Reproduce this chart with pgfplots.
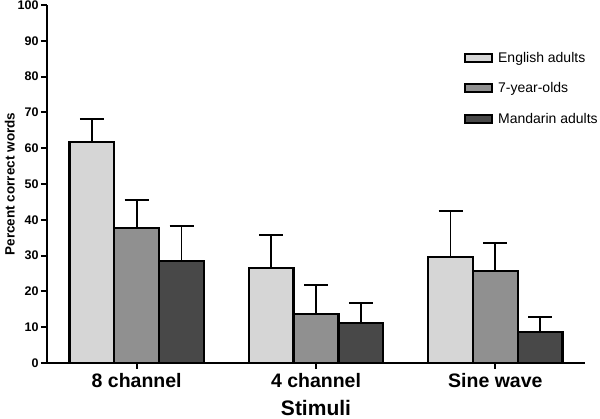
\documentclass[border=0pt]{standalone}
\usepackage{pgfplots}
\pgfplotsset{compat=1.18}
\usepackage{fontspec}
\setmainfont{Liberation Sans}
\definecolor{cLight}{HTML}{D6D6D6}
\definecolor{cMid}{HTML}{909090}
\definecolor{cDark}{HTML}{484848}
\begin{document}
\begin{tikzpicture}
\begin{axis}[
  scale only axis, width=538pt, height=358pt,
  xmin=-0.5, xmax=2.5, ymin=0, ymax=100,
  axis x line=bottom, axis y line=left,
  axis line style={line width=2.4pt, -},
  xtick={0,1,2}, xticklabels={8 channel,4 channel,Sine wave},
  ytick={0,10,...,100},
  tick align=outside, major tick length=6pt,
  tick style={line width=2pt, black},
  /pgf/number format/assume math mode=true,
  yticklabel style={font=\fontsize{12.5}{13}\selectfont\bfseries, xshift=1pt},
  xticklabel style={font=\fontsize{19.5}{20}\selectfont\bfseries, yshift=-1pt},
  ylabel={Percent correct words},
  ylabel style={font=\fontsize{13.5}{14}\selectfont\bfseries, yshift=-4pt},
  xlabel={Stimuli},
  xlabel style={font=\fontsize{21}{22}\selectfont\bfseries, yshift=-6pt},
  ybar, bar width=0.25,
  error bars/y dir=plus, error bars/y explicit,
  error bars/error bar style={line width=1.8pt, black},
  error bars/error mark options={rotate=90, line width=1.8pt, mark size=12pt, black},
  legend style={at={(rel axis cs:0.775,0.875)}, anchor=north west, draw=none, fill=none,
    font=\fontsize{14}{15}\selectfont, row sep=15pt, inner sep=0pt,
    /tikz/every odd column/.append style={column sep=3pt}},
  legend cell align=left,
  legend image code/.code={\draw[#1, line width=2pt] (0pt,-4pt) rectangle (27pt,4pt);},
]
\addplot[fill=cLight, draw=black, line width=2.4pt, bar shift=-0.25] coordinates {
  (0,61.7) +- (0,6.5)
  (1,26.5) +- (0,9.3)
  (2,29.6) +- (0,12.9)
};
\addplot[fill=cMid, draw=black, line width=2.4pt, bar shift=0] coordinates {
  (0,37.7) +- (0,7.8)
  (1,13.7) +- (0,8.1)
  (2,25.7) +- (0,7.8)
};
\addplot[fill=cDark, draw=black, line width=2.4pt, bar shift=0.25] coordinates {
  (0,28.5) +- (0,9.8)
  (1,11.2) +- (0,5.6)
  (2,8.7) +- (0,4.1)
};
\legend{English adults,7-year-olds,Mandarin adults}
\end{axis}
\pgfresetboundingbox
\path[use as bounding box] (-47pt,-56pt) rectangle (553pt,363pt);
\end{tikzpicture}
\end{document}
